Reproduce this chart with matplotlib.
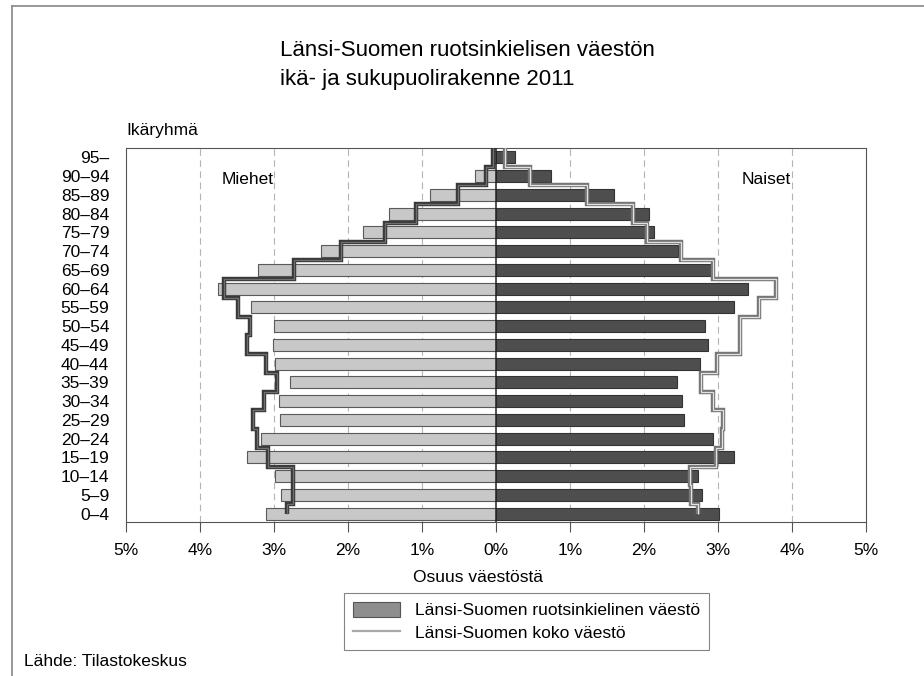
import numpy as np
import matplotlib
matplotlib.use('Agg')
import matplotlib.pyplot as plt
import matplotlib.patheffects as pe
from matplotlib.patches import Patch
from matplotlib.lines import Line2D

plt.rcParams['font.family'] = ['Liberation Sans', 'DejaVu Sans']

# age groups, youngest first
age_groups = ['0–4', '5–9', '10–14', '15–19', '20–24', '25–29', '30–34', '35–39',
              '40–44', '45–49', '50–54', '55–59', '60–64', '65–69', '70–74',
              '75–79', '80–84', '85–89', '90–94', '95–']

# Swedish-speaking population of Western Finland (% of population)
men_swe = [3.11, 2.91, 2.98, 3.36, 3.18, 2.92, 2.93, 2.78, 2.99, 3.01,
           3.00, 3.31, 3.76, 3.22, 2.36, 1.80, 1.45, 0.89, 0.28, 0.04]
women_swe = [3.02, 2.78, 2.73, 3.21, 2.93, 2.54, 2.52, 2.45, 2.75, 2.87,
             2.83, 3.22, 3.40, 2.93, 2.46, 2.14, 2.07, 1.60, 0.74, 0.25]

# whole population of Western Finland (% of population)
men_all = [2.83, 2.74, 2.74, 3.08, 3.23, 3.28, 3.13, 2.96, 3.11, 3.36,
           3.32, 3.49, 3.68, 2.73, 2.10, 1.50, 1.08, 0.52, 0.13, 0.04]
women_all = [2.73, 2.64, 2.62, 2.97, 3.05, 3.07, 2.93, 2.77, 2.98, 3.30,
             3.30, 3.55, 3.78, 2.93, 2.50, 2.04, 1.85, 1.23, 0.46, 0.12]

x_ticks = [-5, -4, -3, -2, -1, 0, 1, 2, 3, 4, 5]
x_labels = ['5%', '4%', '3%', '2%', '1%', '0%', '1%', '2%', '3%', '4%', '5%']

y = np.arange(len(age_groups))
fs = 12.5

fig = plt.figure(figsize=(9.24, 6.76), dpi=100)
ax = fig.add_axes([126/924, 1 - 522/676, 740/924, 374/676])

# grid
for g in [-4, -3, -2, -1, 1, 2, 3, 4]:
    ax.axvline(g, color='#b4b4b4', lw=0.8, ls=(0, (6, 4)), zorder=0)

ax.barh(y, -np.array(men_swe), height=0.64, color='#c8c8c8',
        edgecolor='#5a5a5a', linewidth=0.8, zorder=2)
ax.barh(y, women_swe, height=0.64, color='#4e4e4e',
        edgecolor='#333333', linewidth=0.8, zorder=2)

edges = np.r_[0, np.arange(0.5, len(age_groups))]
st_m = ax.stairs(-np.array(men_all), edges, orientation='horizontal',
                 baseline=None, color='#707070', lw=0.9, zorder=3)
st_m.set_path_effects([pe.Stroke(linewidth=3.2, foreground='#3a3a3a'), pe.Normal()])
st_f = ax.stairs(women_all, edges, orientation='horizontal',
                 baseline=None, color='#e2e2e2', lw=0.9, zorder=3)
st_f.set_path_effects([pe.Stroke(linewidth=3.2, foreground='#767676'), pe.Normal()])

ax.axvline(0, color='#222222', lw=1.1, zorder=4)

ax.set_xlim(-5, 5)
ax.set_ylim(-0.45, 19.5)
ax.set_xticks(x_ticks)
ax.set_xticklabels(x_labels, fontsize=fs)
ax.set_yticks(y)
ax.set_yticklabels(age_groups, fontsize=fs)
ax.tick_params(axis='y', length=0, pad=12)
ax.tick_params(axis='x', length=7, width=0.8, pad=8, color='#555555')
for s in ax.spines.values():
    s.set_color('#555555')
    s.set_linewidth(0.8)

ax.text(-3.36, 17.8, 'Miehet', fontsize=fs, ha='center', va='center')
ax.text(3.65, 17.8, 'Naiset', fontsize=fs, ha='center', va='center')

fig.text(280/924, 1 - 65/676, 'Länsi-Suomen ruotsinkielisen väestön\nikä- ja sukupuolirakenne 2011',
         fontsize=16, ha='left', va='center', linespacing=1.45)
fig.text(126/924, 1 - 131/676, 'Ikäryhmä', fontsize=fs, ha='left', va='center')
fig.text(478/924, 1 - 578/676, 'Osuus väestöstä', fontsize=fs, ha='center', va='center')
fig.text(24/924, 1 - 662/676, 'Lähde: Tilastokeskus', fontsize=fs, ha='left', va='center')

handles = [Patch(facecolor='#8e8e8e', edgecolor='#555555', linewidth=0.8),
           Line2D([], [], color='#a8a8a8', lw=1.6)]
leg = fig.legend(handles, ['Länsi-Suomen ruotsinkielinen väestö', 'Länsi-Suomen koko väestö'],
                 loc='upper left', bbox_to_anchor=(344/924, 1 - 593/676), borderaxespad=0,
                 fontsize=fs, frameon=True, fancybox=False, handlelength=2.7,
                 handleheight=1.0, borderpad=0.5, labelspacing=0.35, handletextpad=0.9)
leg.get_frame().set_edgecolor('#666666')
leg.get_frame().set_linewidth(0.8)

# outer frame (top and left visible)
fig.add_artist(Line2D([12/924, 12/924], [0, 1 - 6/676], transform=fig.transFigure,
                      color='#888888', lw=1.2))
fig.add_artist(Line2D([12/924, 1], [1 - 6/676, 1 - 6/676], transform=fig.transFigure,
                      color='#888888', lw=1.2))

fig.savefig('out.png', dpi=100)
